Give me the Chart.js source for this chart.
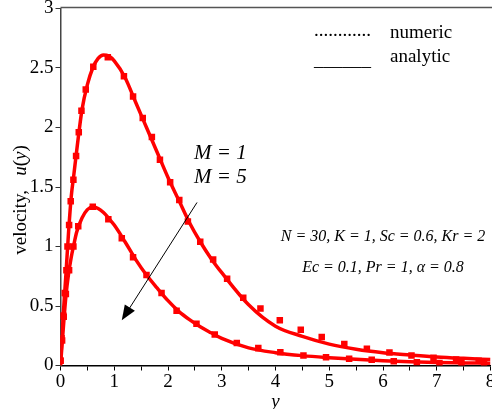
<!DOCTYPE html>
<html>
<head>
<meta charset="utf-8">
<script src="https://cdn.jsdelivr.net/npm/chart.js@4/dist/chart.umd.min.js"></script>
<style>
  html, body { margin: 0; padding: 0; background: #fff; }
  #wrap { width: 492px; height: 409px; }
</style>
</head>
<body>
<div id="wrap"><canvas id="velocity-chart" width="492" height="409"></canvas></div>
<script>
// analytic solution, sampled along y
const analyticX = [0, 0.05, 0.1, 0.15, 0.2, 0.25, 0.3, 0.4, 0.5, 0.6, 0.7, 0.8, 0.9, 1.0, 1.2, 1.4, 1.6, 1.8, 2.0, 2.2, 2.4, 2.6, 2.8, 3.0, 3.5, 4.0, 4.5, 5.0, 5.5, 6.0, 6.5, 7.0, 7.5, 8.0];
const analyticM1 = [0, 0.42, 0.76, 1.12, 1.42, 1.61, 1.80, 2.15, 2.36, 2.50, 2.58, 2.61, 2.60, 2.56, 2.42, 2.21, 2.00, 1.79, 1.58, 1.39, 1.20, 1.04, 0.90, 0.78, 0.51, 0.33, 0.245, 0.18, 0.137, 0.108, 0.089, 0.072, 0.06, 0.05];
const analyticM5 = [0, 0.30, 0.58, 0.77, 0.91, 1.02, 1.12, 1.24, 1.31, 1.335, 1.32, 1.285, 1.235, 1.18, 1.04, 0.89, 0.76, 0.65, 0.545, 0.455, 0.385, 0.325, 0.275, 0.228, 0.148, 0.108, 0.083, 0.066, 0.052, 0.04, 0.032, 0.026, 0.022, 0.018];

// numeric solution points
const numericM1X = [0, 0.02, 0.05, 0.08, 0.11, 0.13, 0.16, 0.19, 0.24, 0.29, 0.34, 0.39, 0.47, 0.61, 0.88, 1.18, 1.35, 1.53, 1.70, 1.85, 2.04, 2.21, 2.37, 2.60, 2.84, 3.10, 3.40, 3.72, 4.08, 4.47, 4.86, 5.28, 5.70, 6.12, 6.53, 6.94, 7.36, 7.78];
const numericM1Y = [0.04, 0.23, 0.42, 0.61, 0.80, 1.00, 1.18, 1.38, 1.56, 1.76, 1.96, 2.14, 2.32, 2.51, 2.59, 2.43, 2.26, 2.08, 1.92, 1.73, 1.54, 1.39, 1.21, 1.04, 0.89, 0.73, 0.57, 0.48, 0.38, 0.30, 0.24, 0.18, 0.14, 0.11, 0.084, 0.065, 0.05, 0.04];
const numericM5X = [0, 0.03, 0.06, 0.1, 0.16, 0.24, 0.33, 0.6, 0.89, 1.14, 1.35, 1.60, 1.88, 2.16, 2.53, 2.87, 3.28, 3.68, 4.09, 4.52, 4.94, 5.37, 5.79, 6.20, 6.63, 7.05, 7.46, 7.88];
const numericM5Y = [0.04, 0.21, 0.41, 0.6, 0.8, 1.0, 1.17, 1.335, 1.23, 1.07, 0.91, 0.76, 0.61, 0.46, 0.35, 0.26, 0.19, 0.146, 0.112, 0.084, 0.07, 0.056, 0.048, 0.036, 0.028, 0.02, 0.02, 0.02];

// axis ticks
const xTicks = [0, 0.5, 1, 1.5, 2, 2.5, 3, 3.5, 4, 4.5, 5, 5.5, 6, 6.5, 7, 7.5, 8];
const xTickLabels = ['0', '', '1', '', '2', '', '3', '', '4', '', '5', '', '6', '', '7', '', '8'];
const yTicks = [0, 0.5, 1, 1.5, 2, 2.5, 3];
const yTickLabels = ['0', '0.5', '1', '1.5', '2', '2.5', '3'];

const RED = '#ff0000';
const SERIF = '"Liberation Serif", "Times New Roman", serif';

function toPoints(xs, ys) {
    return xs.map((x, i) => ({ x: x, y: ys[i] }));
}

// texts, arrow and the top frame line
const annotations = {
    id: 'annotations',
    afterDraw(chart) {
        const ctx = chart.ctx;
        const xs = chart.scales.x;
        const ys = chart.scales.y;
        const area = chart.chartArea;
        ctx.save();

        // top frame line
        ctx.strokeStyle = '#555';
        ctx.lineWidth = 1.5;
        ctx.beginPath();
        ctx.moveTo(area.left, area.top - 1);
        ctx.lineTo(area.right + 1.5, area.top - 1);
        ctx.stroke();

        // arrow M=1 -> M=5
        const x1 = xs.getPixelForValue(2.54), y1 = ys.getPixelForValue(1.37);
        const x2 = xs.getPixelForValue(1.14), y2 = ys.getPixelForValue(0.38);
        const ang = Math.atan2(y2 - y1, x2 - x1);
        const headLen = 15, headW = 6;
        ctx.strokeStyle = '#000';
        ctx.fillStyle = '#000';
        ctx.lineWidth = 1;
        ctx.beginPath();
        ctx.moveTo(x1, y1);
        ctx.lineTo(x2 - Math.cos(ang) * headLen * 0.8, y2 - Math.sin(ang) * headLen * 0.8);
        ctx.stroke();
        ctx.beginPath();
        ctx.moveTo(x2, y2);
        ctx.lineTo(x2 - Math.cos(ang) * headLen + Math.sin(ang) * headW, y2 - Math.sin(ang) * headLen - Math.cos(ang) * headW);
        ctx.lineTo(x2 - Math.cos(ang) * headLen - Math.sin(ang) * headW, y2 - Math.sin(ang) * headLen + Math.cos(ang) * headW);
        ctx.closePath();
        ctx.fill();

        ctx.fillStyle = '#000';
        ctx.textBaseline = 'middle';

        // curve labels
        ctx.textAlign = 'left';
        ctx.font = 'italic 21px ' + SERIF;
        ctx.fillText('M = 1', 194, 153);
        ctx.fillText('M = 5', 194, 177);

        // parameters
        ctx.textAlign = 'center';
        ctx.font = 'italic 16px ' + SERIF;
        ctx.fillText('N = 30, K = 1, Sc = 0.6, Kr = 2', 383, 237);
        ctx.fillText('Ec = 0.1, Pr = 1, \u03b1 = 0.8', 383, 268);

        // legend
        ctx.textAlign = 'left';
        ctx.font = '19px ' + SERIF;
        ctx.fillText('............', 314, 31);
        ctx.fillText('numeric', 390, 33);
        ctx.fillText('______', 314, 61);
        ctx.fillText('analytic', 390, 57);

        // y axis title
        ctx.translate(21, 200);
        ctx.rotate(-Math.PI / 2);
        const parts = [['velocity,   ', ''], ['u', 'italic '], ['(', ''], ['y', 'italic '], [')', '']];
        let total = 0;
        parts.forEach(p => { ctx.font = p[1] + '19px ' + SERIF; total += ctx.measureText(p[0]).width; });
        let px = -total / 2;
        parts.forEach(p => {
            ctx.font = p[1] + '19px ' + SERIF;
            ctx.fillText(p[0], px, 0);
            px += ctx.measureText(p[0]).width;
        });
        ctx.restore();
    }
};

new Chart(document.getElementById('velocity-chart').getContext('2d'), {
    type: 'scatter',
    data: {
        datasets: [
            {
                label: 'analytic M = 1',
                data: toPoints(analyticX, analyticM1),
                showLine: true,
                borderColor: RED,
                borderWidth: 3.5,
                pointRadius: 0,
                cubicInterpolationMode: 'monotone'
            },
            {
                label: 'analytic M = 5',
                data: toPoints(analyticX, analyticM5),
                showLine: true,
                borderColor: RED,
                borderWidth: 3.5,
                pointRadius: 0,
                cubicInterpolationMode: 'monotone'
            },
            {
                label: 'numeric M = 1',
                data: toPoints(numericM1X, numericM1Y),
                pointStyle: 'rect',
                pointRadius: 4.6,
                pointBorderWidth: 0,
                backgroundColor: RED
            },
            {
                label: 'numeric M = 5',
                data: toPoints(numericM5X, numericM5Y),
                pointStyle: 'rect',
                pointRadius: 4.6,
                pointBorderWidth: 0,
                backgroundColor: RED
            }
        ]
    },
    options: {
        responsive: false,
        animation: false,
        events: [],
        layout: { autoPadding: false, padding: { top: 8.5, right: 1.5, left: 0, bottom: 0 } },
        plugins: {
            legend: { display: false },
            tooltip: { enabled: false }
        },
        scales: {
            x: {
                type: 'linear',
                min: 0,
                max: 8,
                afterBuildTicks: (scale) => { scale.ticks = xTicks.map(v => ({ value: v })); },
                afterFit: (scale) => {
                    scale.height = 43.5;
                    scale.paddingLeft = 0;
                    scale.paddingRight = 0;
                },
                ticks: {
                    color: '#000',
                    padding: 0,
                    maxRotation: 0,
                    autoSkip: false,
                    font: { family: SERIF, size: 19 },
                    callback: (value) => xTickLabels[xTicks.indexOf(value)]
                },
                grid: { drawOnChartArea: false, drawTicks: true, tickLength: 5, tickColor: '#000' },
                border: { display: true, color: '#000', width: 1.5 },
                title: {
                    display: true,
                    text: 'y',
                    color: '#000',
                    padding: { top: 5, bottom: -4 },
                    font: { family: SERIF, size: 19, style: 'italic' }
                }
            },
            y: {
                type: 'linear',
                min: 0,
                max: 3,
                afterBuildTicks: (scale) => { scale.ticks = yTicks.map(v => ({ value: v })); },
                afterFit: (scale) => {
                    scale.width = 60.5;
                    scale.paddingTop = 0;
                    scale.paddingBottom = 0;
                },
                ticks: {
                    color: '#000',
                    padding: 2,
                    autoSkip: false,
                    font: { family: SERIF, size: 19 },
                    callback: (value) => yTickLabels[yTicks.indexOf(value)]
                },
                grid: { drawOnChartArea: false, drawTicks: true, tickLength: 5, tickColor: '#333' },
                border: { display: true, color: '#444', width: 1.5 }
            }
        }
    },
    plugins: [annotations]
});
</script>
</body>
</html>
